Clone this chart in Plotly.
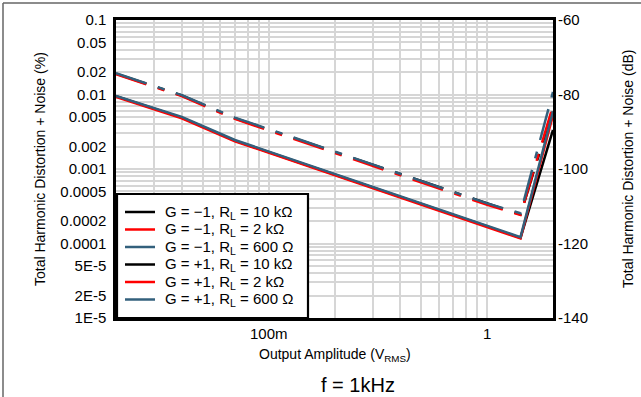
import plotly.graph_objects as go

# output amplitude (Vrms)
amplitude = [0.02, 0.04, 0.07, 0.2, 0.5, 1.0, 1.42, 2.0]

# THD+N (%)
thd_a_10k = [0.0095, 0.0049, 0.0024, 0.00085, 0.00034, 0.00017, 0.000119, 0.00335]
thd_a_2k = [0.0093, 0.0048, 0.00236, 0.00083, 0.00033, 0.000166, 0.000117, 0.00531]
thd_a_600 = [0.0096, 0.0050, 0.00245, 0.00086, 0.000345, 0.000173, 0.000122, 0.00596]
thd_b_10k = [0.0190, 0.0097, 0.0048, 0.00169, 0.00068, 0.00034, 0.000245, 0.00631]
thd_b_2k = [0.0188, 0.0095, 0.0047, 0.00166, 0.00066, 0.00033, 0.000242, 0.00708]
thd_b_600 = [0.0193, 0.0098, 0.0049, 0.00172, 0.00069, 0.000345, 0.000255, 0.01084]

legend_names = [
    "G = \u22121, R<sub>L</sub> = 10 k\u03a9",
    "G = \u22121, R<sub>L</sub> = 2 k\u03a9",
    "G = \u22121, R<sub>L</sub> = 600 \u03a9",
    "G = +1, R<sub>L</sub> = 10 k\u03a9",
    "G = +1, R<sub>L</sub> = 2 k\u03a9",
    "G = +1, R<sub>L</sub> = 600 \u03a9",
]

pct_ticks = [0.1, 0.05, 0.02, 0.01, 0.005, 0.002, 0.001, 0.0005,
             0.0002, 0.0001, 5e-5, 2e-5, 1e-5]
pct_labels = ["0.1", "0.05", "0.02", "0.01", "0.005", "0.002", "0.001",
              "0.0005", "0.0002", "0.0001", "5E-5", "2E-5", "1E-5"]
db_ticks = [-140, -120, -100, -80, -60]
db_labels = ["-140", "-120", "-100", "-80", "-60"]

BLACK = "#000000"
RED = "#ff0000"
BLUE = "#33607c"
colors = [BLACK, RED, BLUE, BLACK, RED, BLUE]

fig = go.Figure()

series = [thd_b_10k, thd_b_2k, thd_b_600, thd_a_10k, thd_a_2k, thd_a_600]
dashes = ["32px,12px,7px,12px"] * 3 + ["solid"] * 3
for name, vals, c, d in zip(legend_names, series, colors, dashes):
    fig.add_trace(go.Scatter(x=amplitude, y=vals, mode="lines", name=name,
                             line=dict(color=c, width=2.5, dash=d),
                             showlegend=False, hoverinfo="skip"))

# keep the dB axis alive
fig.add_trace(go.Scatter(x=[None], y=[None], yaxis="y2", showlegend=False))

minor_grid = [d * 10.0 ** k for k in range(-6, 2) for d in range(1, 10)]
GRID = "#d6d6d6"

# hand-built legend box (plotly's legend rows are too tall for this layout)
plot_w, plot_h = 437, 298
shapes = [
    dict(type="rect", xref="paper", yref="paper", x0=1 / plot_w, x1=192 / plot_w,
         y0=0, y1=124 / plot_h, fillcolor="white", line=dict(color="black", width=2.2),
         layer="above"),
    # outer frame of the picture
    dict(type="line", xref="paper", yref="paper", x0=-113 / plot_w, x1=-113 / plot_w,
         y0=-80 / plot_h, y1=315 / plot_h, line=dict(color="#666666", width=1.5)),
    dict(type="line", xref="paper", yref="paper", x0=-113 / plot_w, x1=530 / plot_w,
         y0=315 / plot_h, y1=315 / plot_h, line=dict(color="#666666", width=1.5)),
]
annotations = []
for i, (name, c) in enumerate(zip(legend_names, colors)):
    yy = (106 - 17.5 * i) / plot_h
    shapes.append(dict(type="line", xref="paper", yref="paper",
                       x0=9 / plot_w, x1=39 / plot_w, y0=yy, y1=yy,
                       line=dict(color=c, width=2.5), layer="above"))
    annotations.append(dict(text=name, xref="paper", yref="paper", x=47 / plot_w,
                            y=yy, xanchor="left", yanchor="middle", showarrow=False,
                            font=dict(size=15)))

annotations += [
    dict(text="Total Harmonic Distortion + Noise (%)", xref="paper", yref="paper",
         x=-76 / plot_w, y=0.5, xanchor="center", yanchor="middle",
         textangle=-90, showarrow=False, font=dict(size=14)),
    dict(text="Total Harmonic Distortion + Noise (dB)", xref="paper", yref="paper",
         x=512 / plot_w, y=0.5, xanchor="center", yanchor="middle",
         textangle=-90, showarrow=False, font=dict(size=14)),
    dict(text="Output Amplitude (V<sub>RMS</sub>)", xref="paper", yref="paper",
         x=0.5, y=-37 / plot_h, xanchor="center", yanchor="middle",
         showarrow=False, font=dict(size=14)),
    dict(text="f = 1kHz", xref="paper", yref="paper",
         x=242 / plot_w, y=-67 / plot_h, xanchor="center", yanchor="middle",
         showarrow=False, font=dict(size=20)),
]

fig.update_layout(
    template="none",
    width=641, height=397,
    margin=dict(l=116, r=88, t=20, b=79, autoexpand=False),
    paper_bgcolor="white", plot_bgcolor="white",
    font=dict(family="Liberation Sans, Arial, sans-serif", size=15, color="black"),
    showlegend=False,
    xaxis=dict(type="log", range=[-1.69897, 0.30103], automargin=False,
               tickmode="array", tickvals=[0.1, 1], ticktext=["100m", "1"],
               ticks="", showgrid=True, gridcolor=GRID, gridwidth=1.5,
               minor=dict(tickmode="array", tickvals=minor_grid, showgrid=True,
                          gridcolor=GRID, gridwidth=1.5, ticks=""),
               showline=True, linecolor="black", linewidth=2.5, mirror=True,
               zeroline=False),
    yaxis=dict(type="log", range=[-5, -1], automargin=False,
               tickmode="array", tickvals=pct_ticks, ticktext=pct_labels,
               ticks="", ticklabelstandoff=4, showgrid=True, gridcolor=GRID, gridwidth=1.5,
               minor=dict(tickmode="array", tickvals=minor_grid, showgrid=True,
                          gridcolor=GRID, gridwidth=1.5, ticks=""),
               showline=True, linecolor="black", linewidth=2.5, mirror=True,
               zeroline=False),
    yaxis2=dict(overlaying="y", side="right", range=[-140, -60], automargin=False,
                tickmode="array", tickvals=db_ticks, ticktext=db_labels, ticks="",
                ticklabelstandoff=4, showgrid=False, zeroline=False, showline=False),
    annotations=annotations,
    shapes=shapes,
)

# page body margin would push the chart off by 8px
fig.write_html("out.html", config={"displayModeBar": False},
               post_script="document.body.style.margin='0';")
